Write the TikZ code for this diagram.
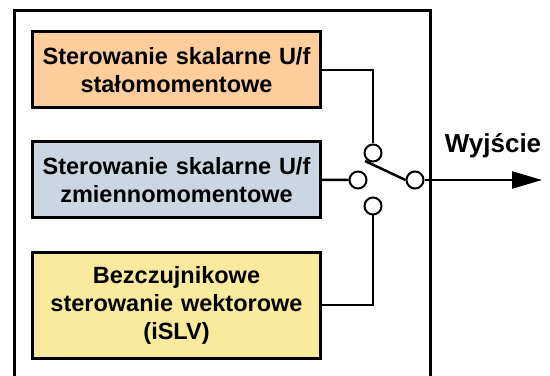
\documentclass[tikz,border=0pt]{standalone}
\usepackage{fontspec}
\setmainfont{Liberation Sans}
\usetikzlibrary{positioning, arrows.meta}

\definecolor{boxorange}{RGB}{253,206,155}
\definecolor{boxblue}{RGB}{204,214,224}
\definecolor{boxyellow}{RGB}{250,234,158}

\begin{document}
\begin{tikzpicture}[
        x=0.5bp, y=-0.5bp,
        >={Triangle[length=15bp, width=8.5bp]},
        node distance=17bp,
        every node/.style={font=\fontsize{11.75bp}{14bp}\selectfont\bfseries},
        method/.style={draw, line width=1.5bp, align=center, text width=136bp,
            minimum width=143.5bp, inner sep=0pt, outer sep=0pt},
        contact/.style={draw, circle, fill=white, line width=1bp, minimum size=8.5bp, inner sep=0pt},
        wire/.style={line width=1.25bp}
    ]
        \useasboundingbox (0,0) rectangle (550,376);
        % frame of the converter
        \draw[line width=1.5bp] (14,376) |- (430,11) -- (430,376);

        \node[method, fill=boxorange, minimum height=38bp] (scalar1) at (176.5,70)
            {Sterowanie skalarne U/f\\stałomomentowe};
        \node[method, fill=boxblue, minimum height=38bp, below=of scalar1] (scalar2)
            {Sterowanie skalarne U/f\\zmiennomomentowe};
        \node[method, fill=boxyellow, minimum height=53bp, below=of scalar2] (vector)
            {Bezczujnikowe\\sterowanie wektorowe\\(iSLV)};

        \node[contact] (ctop) at (373,153) {};
        \node[contact] (cmid) at (358,180) {};
        \node[contact] (cbot) at (373,206) {};
        \node[contact] (cout) at (415,180) {};
        \coordinate (lever) at (365,161);
        \coordinate (outpt) at (542,180);

        \draw[wire] (scalar1.east) -| (ctop.north);
        \draw[wire] (scalar2.east) -- (cmid.west);
        \draw[wire] (vector.east) -| (cbot.south);
        \draw[wire] (cout.west) -- (lever);
        \draw[wire, ->] (cout.east) -- (outpt);

        \node[font=\fontsize{13bp}{15bp}\selectfont\bfseries] (out) at (493,146) {Wyjście};
\end{tikzpicture}
\end{document}
